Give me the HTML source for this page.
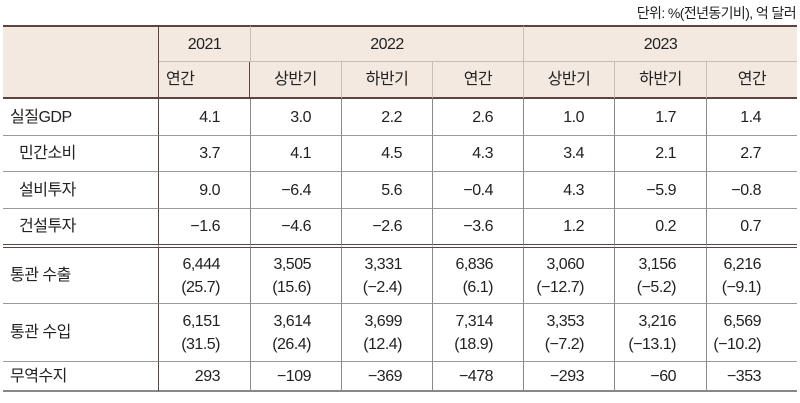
<!DOCTYPE html>
<html><head><meta charset="utf-8"><style>
body{margin:0;width:800px;height:403px;background:#fff;overflow:hidden;font-family:"Liberation Sans","Noto Sans CJK KR",sans-serif;color:#222}
.unit{position:absolute;right:4px;top:3px;font-size:14px;letter-spacing:-0.6px}
table{position:absolute;left:3px;top:25px;border-collapse:separate;border-spacing:0;table-layout:fixed;width:794px;font-size:16px;letter-spacing:-0.5px}
td{padding:0;border-bottom:1px solid #9a9a9a;border-left:1px solid #8a8a8a;text-align:right;padding-right:30px;box-sizing:border-box;line-height:23px}
td:first-child{border-left:none;text-align:left;padding-left:7px;padding-right:0;border-right:1px solid #5a4540}
td:nth-child(2){border-left:none}
td:last-child{padding-right:36px}
thead td{background:#f3e9e1;text-align:center;padding-right:0!important;border-bottom:1px solid #c9bdb5;border-left:1px solid #c9bdb5}
thead tr:first-child td{border-top:2px solid #5a4540}
thead tr:last-child td{border-bottom:2px solid #5a4540}
thead td.lab{border-bottom:2px solid #5a4540}
.ind{padding-left:16px!important}
tr.dbl td{border-bottom:4px double #5a4540}
tr.last td{border-bottom:2px solid #888}
</style></head><body>
<div class="unit">단위: %(전년동기비), 억 달러</div>
<table>
<colgroup><col style="width:156px"><col style="width:91px"><col style="width:91px"><col style="width:91px"><col style="width:91px"><col style="width:91px"><col style="width:92px"><col style="width:91px"></colgroup>
<thead>
<tr style="height:37px"><td rowspan="2" class="lab"></td><td>2021</td><td colspan="3">2022</td><td colspan="3">2023</td></tr>
<tr style="height:37px"><td>연간</td><td>상반기</td><td>하반기</td><td>연간</td><td>상반기</td><td>하반기</td><td>연간</td></tr>
</thead>
<tbody>
<tr style="height:37px"><td>실질GDP</td><td>4.1</td><td>3.0</td><td>2.2</td><td>2.6</td><td>1.0</td><td>1.7</td><td>1.4</td></tr>
<tr style="height:36px"><td class="ind">민간소비</td><td>3.7</td><td>4.1</td><td>4.5</td><td>4.3</td><td>3.4</td><td>2.1</td><td>2.7</td></tr>
<tr style="height:37px"><td class="ind">설비투자</td><td>9.0</td><td>−6.4</td><td>5.6</td><td>−0.4</td><td>4.3</td><td>−5.9</td><td>−0.8</td></tr>
<tr style="height:39px" class="dbl"><td class="ind">건설투자</td><td>−1.6</td><td>−4.6</td><td>−2.6</td><td>−3.6</td><td>1.2</td><td>0.2</td><td>0.7</td></tr>
<tr style="height:56px"><td>통관 수출</td><td>6,444<br>(25.7)</td><td>3,505<br>(15.6)</td><td>3,331<br>(−2.4)</td><td>6,836<br>(6.1)</td><td>3,060<br>(−12.7)</td><td>3,156<br>(−5.2)</td><td>6,216<br>(−9.1)</td></tr>
<tr style="height:58px"><td>통관 수입</td><td>6,151<br>(31.5)</td><td>3,614<br>(26.4)</td><td>3,699<br>(12.4)</td><td>7,314<br>(18.9)</td><td>3,353<br>(−7.2)</td><td>3,216<br>(−13.1)</td><td>6,569<br>(−10.2)</td></tr>
<tr style="height:30px" class="last"><td>무역수지</td><td>293</td><td>−109</td><td>−369</td><td>−478</td><td>−293</td><td>−60</td><td>−353</td></tr>
</tbody>
</table>
</body></html>
